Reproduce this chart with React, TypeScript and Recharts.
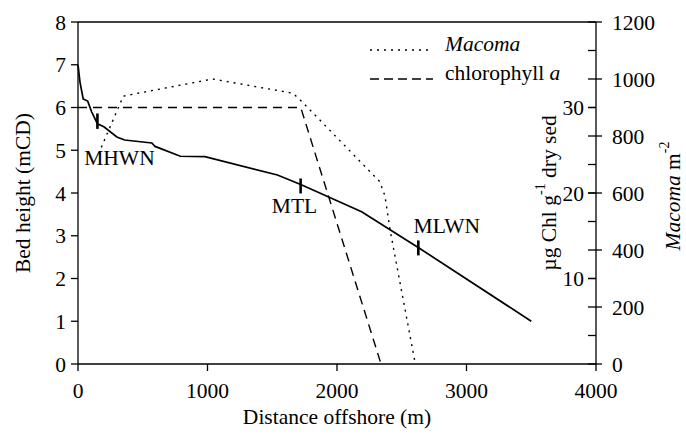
import React from 'react';
import { LineChart, Line, XAxis, YAxis, ReferenceLine, ReferenceDot, Legend } from 'recharts';

const FONT = '"Liberation Serif", "Times New Roman", serif';
const FS = 21.5;

// bed profile (m offshore, m above chart datum)
const bedDistance = [0, 15, 40, 75, 105, 150, 200, 300, 360, 570, 595, 790, 980, 1540, 1720, 2190, 2630, 3500];
const bedHeight = [7.0, 6.6, 6.2, 6.15, 5.9, 5.62, 5.55, 5.31, 5.24, 5.17, 5.09, 4.86, 4.85, 4.42, 4.2, 3.56, 2.72, 1.0];

// chlorophyll a (ug Chl g-1 dry sed)
const chlDistance = [0, 1720, 2340];
const chlValue = [30, 30, 0];

// Macoma density (m-2)
const macomaDistance = [180, 350, 1040, 1660, 1730, 2330, 2370, 2410, 2605];
const macomaValue = [760, 940, 1000, 950, 920, 640, 590, 470, 0];

const distanceTicks = [0, 1000, 2000, 3000, 4000];
const heightTicks = [0, 1, 2, 3, 4, 5, 6, 7, 8];
const chlTicks = [10, 20, 30];
const macomaTicks = [0, 100, 200, 300, 400, 500, 600, 700, 800, 900, 1000, 1100, 1200];

// tide levels marked on the profile
const tideNames = ['MHWN', 'MTL', 'MLWN'];
const tideDistance = [150, 1719, 2628];
const tideLow = [5.5, 3.99, 2.54];
const tideHigh = [5.86, 4.34, 2.89];
const tideLabelDistance = [320, 1672, 2848];
const tideLabelHeight = [4.84, 3.71, 3.24];

const bedData = bedDistance.map((d, i) => ({ distance: d, height: bedHeight[i] }));
const chlData = chlDistance.map((d, i) => ({ distance: d, chl: chlValue[i] }));
const macomaData = macomaDistance.map((d, i) => ({ distance: d, macoma: macomaValue[i] }));

const tickStyle = { fill: '#000', fontSize: FS, fontFamily: FONT };

const MacomaTick = (props: any) => {
  const { x, y, payload } = props;
  const v = payload.value;
  const major = v % 200 === 0;
  return (
    <g>
      <line x1={x - 8} x2={major ? x + 6 : x} y1={y} y2={y} stroke="#000" strokeWidth={1.3} />
      {major && (
        <text x={x + 16} y={y} dy="0.35em" fontSize={FS} fill="#000" fontFamily={FONT}>
          {v}
        </text>
      )}
    </g>
  );
};

const BedLabel = (props: any) => {
  const { x, y, height } = props.viewBox;
  const cx = x - 5;
  const cy = y + height / 2;
  return (
    <text x={cx} y={cy} transform={`rotate(-90 ${cx} ${cy})`} textAnchor="middle" dominantBaseline="central" fontSize={FS} fill="#000" fontFamily={FONT}>
      Bed height (mCD)
    </text>
  );
};

const ChlLabel = (props: any) => {
  const { x, width, y, height } = props.viewBox;
  const cx = x + width - 47;
  const cy = y + height / 2;
  return (
    <text x={cx} y={cy} transform={`rotate(-90 ${cx} ${cy})`} textAnchor="middle" dominantBaseline="central" fontSize={FS} fill="#000" fontFamily={FONT}>
      <tspan>µg Chl g</tspan>
      <tspan dy={-9} fontSize={14}>-1</tspan>
      <tspan dy={9}> dry sed</tspan>
    </text>
  );
};

const MacomaLabel = (props: any) => {
  const { x, y, height } = props.viewBox;
  const cx = x + 77;
  const cy = y + height / 2 + 3;
  return (
    <text x={cx} y={cy} transform={`rotate(-90 ${cx} ${cy})`} textAnchor="middle" dominantBaseline="central" fontSize={FS} fill="#000" fontFamily={FONT}>
      <tspan fontStyle="italic">Macoma</tspan>
      <tspan> m</tspan>
      <tspan dy={-9} fontSize={14}>-2</tspan>
    </text>
  );
};

const legendItems = [
  { dash: '2 5', main: '', italic: 'Macoma' },
  { dash: '9 5', main: 'chlorophyll ', italic: 'a' },
];

const renderLegend = () => (
  <svg width={210} height={64} style={{ display: 'block', fontFamily: FONT }}>
    {legendItems.map((item, i) => {
      const ly = 20 + 29 * i;
      return (
        <g key={i}>
          <line x1={5} x2={68} y1={ly} y2={ly} stroke="#000" strokeWidth={1.4} strokeDasharray={item.dash} />
          <text x={80} y={ly + 1} fontSize={FS} fill="#000">
            {item.main}
            <tspan fontStyle="italic">{item.italic}</tspan>
          </text>
        </g>
      );
    })}
  </svg>
);

export default function App() {
  return (
    <div style={{ position: 'absolute', left: 0, top: 0, background: '#fff', fontFamily: FONT }}>
      <LineChart width={686} height={434} margin={{ top: 22, right: 30, bottom: 30, left: 28 }}>
        <XAxis
          dataKey="distance"
          type="number"
          domain={[0, 4000]}
          ticks={distanceTicks}
          interval={0}
          height={40}
          tickSize={7}
          tickMargin={12}
          tick={tickStyle}
          axisLine={{ stroke: '#000', strokeWidth: 1.3 }}
          tickLine={{ stroke: '#000', strokeWidth: 1.3 }}
          label={{ value: 'Distance offshore (m)', position: 'bottom', offset: 5, fill: '#000', fontSize: FS, fontFamily: FONT }}
        />
        <YAxis
          yAxisId="h"
          type="number"
          domain={[0, 8]}
          ticks={heightTicks}
          interval={0}
          width={50}
          tickSize={7}
          tickMargin={5}
          tick={tickStyle}
          axisLine={{ stroke: '#000', strokeWidth: 1.3 }}
          tickLine={{ stroke: '#000', strokeWidth: 1.3 }}
          label={{ content: BedLabel }}
        />
        <YAxis
          yAxisId="m"
          orientation="right"
          type="number"
          domain={[0, 1200]}
          ticks={macomaTicks}
          interval={0}
          width={60}
          tickSize={0}
          tickMargin={0}
          tickLine={false}
          tick={<MacomaTick />}
          axisLine={{ stroke: '#000', strokeWidth: 1.3 }}
          label={{ content: MacomaLabel }}
        />
        <YAxis
          yAxisId="c"
          orientation="right"
          mirror
          type="number"
          domain={[0, 40]}
          ticks={chlTicks}
          interval={0}
          width={1}
          tickSize={8}
          tickMargin={4}
          tick={tickStyle}
          axisLine={false}
          tickLine={{ stroke: '#000', strokeWidth: 1.3 }}
          label={{ content: ChlLabel }}
        />
        <ReferenceLine yAxisId="h" y={8} stroke="#000" strokeWidth={1.3} />
        <Legend layout="horizontal" verticalAlign="middle" align="center" wrapperStyle={{ top: 30, left: 365, width: 210 }} content={renderLegend} />
        <Line yAxisId="c" data={chlData} dataKey="chl" type="linear" stroke="#000" strokeWidth={1.4} strokeDasharray="9 6" dot={false} isAnimationActive={false} />
        <Line yAxisId="m" data={macomaData} dataKey="macoma" type="linear" stroke="#000" strokeWidth={1.4} strokeDasharray="2 5" dot={false} isAnimationActive={false} />
        <Line yAxisId="h" data={bedData} dataKey="height" type="linear" stroke="#000" strokeWidth={1.7} dot={false} isAnimationActive={false} />
        {tideNames.map((name, i) => (
          <ReferenceLine
            key={`m-${name}`}
            yAxisId="h"
            segment={[{ x: tideDistance[i], y: tideLow[i] }, { x: tideDistance[i], y: tideHigh[i] }]}
            stroke="#000"
            strokeWidth={2.6}
          />
        ))}
        {tideNames.map((name, i) => (
          <ReferenceDot
            key={`l-${name}`}
            yAxisId="h"
            x={tideLabelDistance[i]}
            y={tideLabelHeight[i]}
            r={0}
            fill="none"
            stroke="none"
            label={{ value: name, position: 'center', fill: '#000', fontSize: FS, fontFamily: FONT }}
          />
        ))}
      </LineChart>
    </div>
  );
}
